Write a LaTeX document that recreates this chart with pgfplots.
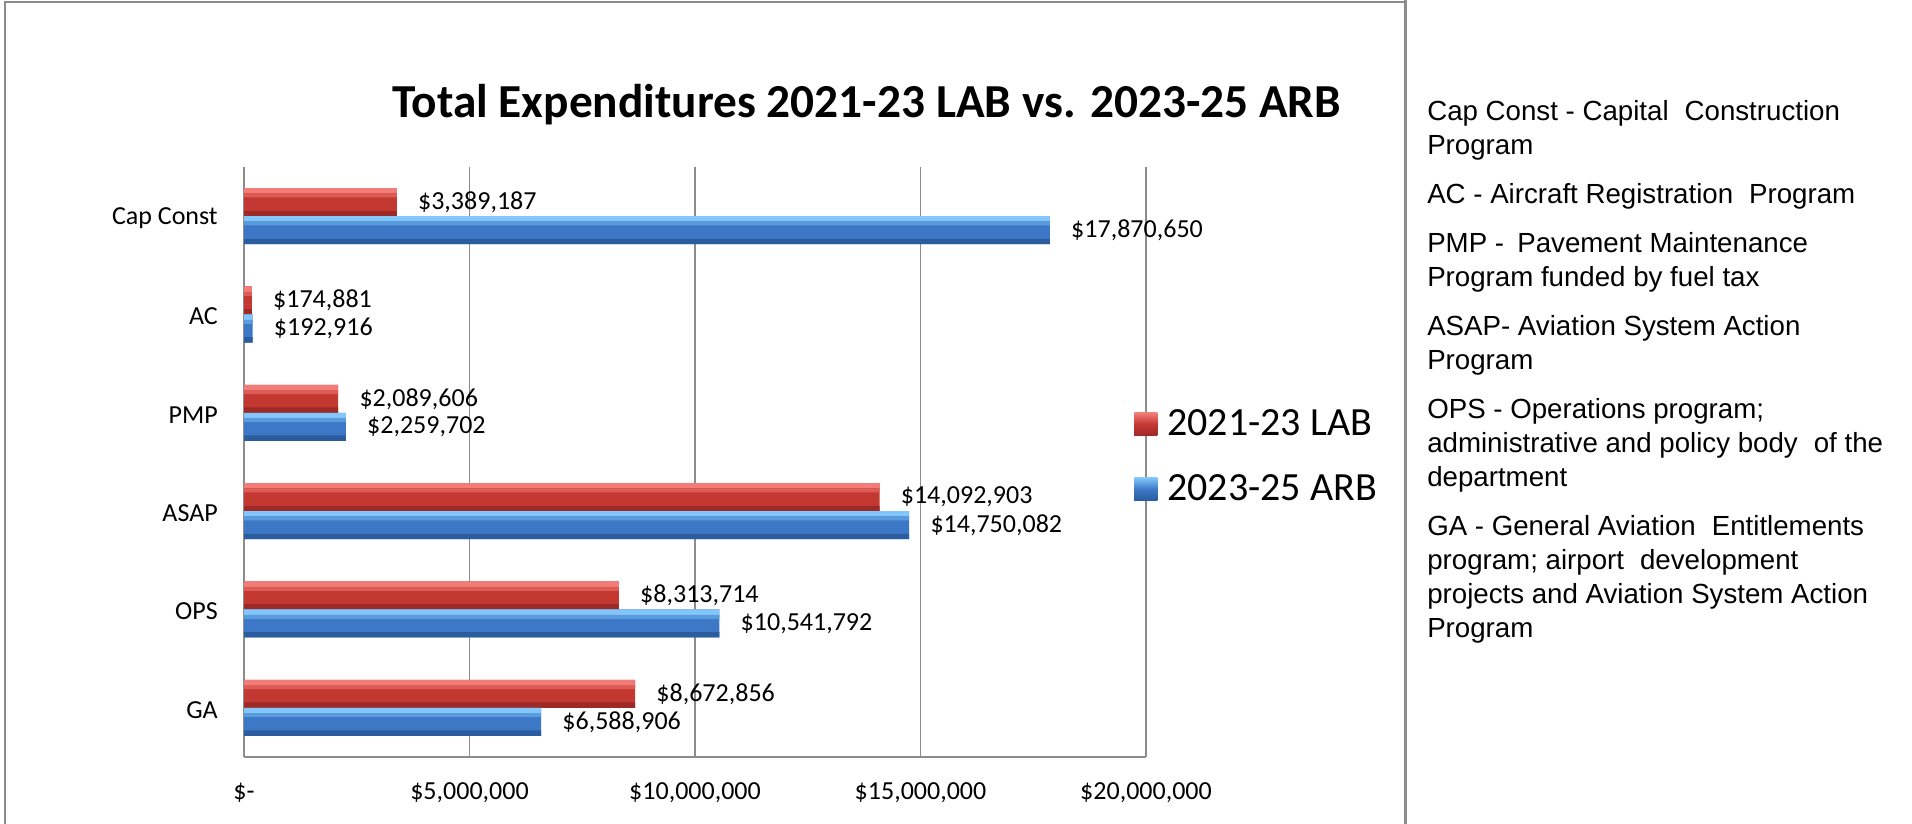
\documentclass[border=0pt]{standalone}
\usepackage{pgfplots}
\pgfplotsset{compat=1.18}
\usepackage{pgfplotstable}
\usepackage{fontspec}
\setmainfont{Carlito}
\newfontfamily\arial{Liberation Sans}
\definecolor{redTop}{RGB}{242,125,120}
\definecolor{redHi}{RGB}{222,92,86}
\definecolor{redMid}{RGB}{196,56,50}
\definecolor{redBot}{RGB}{158,42,40}
\definecolor{bluTop}{RGB}{130,198,250}
\definecolor{bluHi}{RGB}{90,155,222}
\definecolor{bluMid}{RGB}{60,120,198}
\definecolor{bluBot}{RGB}{42,92,158}
\definecolor{frame}{RGB}{140,140,140}

\pgfplotstableread{
x y lab
3389187 5 3,389,187
174881 4 174,881
2089606 3 2,089,606
14092903 2 14,092,903
8313714 1 8,313,714
8672856 0 8,672,856
}\labdata
\pgfplotstableread{
x y lab
17870650 5 17,870,650
192916 4 192,916
2259702 3 2,259,702
14750082 2 14,750,082
10541792 1 10,541,792
6588906 0 6,588,906
}\arbdata

\begin{document}
\begin{tikzpicture}
\path[use as bounding box] (0,0) rectangle (1434pt,618pt);
\draw[frame, line width=1.5pt] (3.75pt,0) -- (3.75pt,616.5pt) -- (1054pt,616.5pt);
\draw[frame, line width=2pt] (1054pt,0) -- (1054pt,618pt);
\node[font=\fontsize{35.5}{40}\selectfont\bfseries, anchor=base, inner sep=0pt] at (650pt,529.5pt) {Total Expenditures 2021-23 LAB vs. 2023-25 ARB};
\begin{axis}[
 at={(183pt,50.25pt)}, anchor=south west,
 scale only axis, width=676.5pt, height=442.5pt,
 xbar, bar width=21pt,
 xmin=0, xmax=20000000, ymin=-0.5, ymax=5.5,
 axis lines*=left,
 axis line style={frame, line width=1.5pt},
 xtick={0,5000000,10000000,15000000,20000000},
 xticklabels={{\$-\hspace{0.9em}},{\$5,000,000},{\$10,000,000},{\$15,000,000},{\$20,000,000}},
 scaled x ticks=false,
 ytick={0,1,2,3,4,5},
 yticklabels={GA,OPS,ASAP,PMP,AC,Cap Const},
 major tick length=0pt,
 xmajorgrids, major grid style={frame, line width=1.2pt},
 tick label style={font=\fontsize{19.5}{23}\selectfont},
 xticklabel style={anchor=base, inner sep=0pt, yshift=-32.25pt},
 yticklabel style={anchor=east, inner sep=0pt, xshift=-19.5pt, yshift=-1.5pt},
 every node near coord/.append style={font=\fontsize{19.5}{23}\selectfont, anchor=west, inner sep=0pt, xshift=15.75pt},
 legend style={at={(0.9867,0.5119)}, anchor=west, draw=none, fill=none, inner sep=0pt,
   font=\fontsize{30}{36}\selectfont,
   nodes={inner sep=0pt, text height=34pt, text depth=14.75pt},
   /tikz/every odd column/.append style={column sep=7.5pt}},
 legend cell align=left,
]
% 2021-23 LAB
\addplot[xbar, bar shift=10.5pt, fill=redMid, draw=none,
  point meta=explicit symbolic, nodes near coords={\$\pgfplotspointmeta},
  legend image code/.code={\path[draw=none, top color=redTop, bottom color=redBot, middle color=redMid] (0pt,-9.95pt) rectangle (17.25pt,7.3pt);}]
  table[x=x, y=y, meta=lab] {\labdata};
\addplot[forget plot, xbar, bar width=4pt, bar shift=19pt, fill=redTop, draw=none] table[x=x, y=y] {\labdata};
\addplot[forget plot, xbar, bar width=3pt, bar shift=15.5pt, fill=redHi, draw=none] table[x=x, y=y] {\labdata};
\addplot[forget plot, xbar, bar width=4pt, bar shift=2pt, fill=redBot, draw=none] table[x=x, y=y] {\labdata};
% 2023-25 ARB
\addplot[xbar, bar shift=-10.5pt, fill=bluMid, draw=none,
  point meta=explicit symbolic, nodes near coords={\$\pgfplotspointmeta},
  legend image code/.code={\path[draw=none, top color=bluTop, bottom color=bluBot, middle color=bluMid] (0pt,-9.95pt) rectangle (17.25pt,7.3pt);}]
  table[x=x, y=y, meta=lab] {\arbdata};
\addplot[forget plot, xbar, bar width=4pt, bar shift=-2pt, fill=bluTop, draw=none] table[x=x, y=y] {\arbdata};
\addplot[forget plot, xbar, bar width=3pt, bar shift=-5.5pt, fill=bluHi, draw=none] table[x=x, y=y] {\arbdata};
\addplot[forget plot, xbar, bar width=4pt, bar shift=-19pt, fill=bluBot, draw=none] table[x=x, y=y] {\arbdata};
\legend{2021-23 LAB, 2023-25 ARB}
\end{axis}
\begin{scope}[every node/.style={anchor=base west, inner sep=0pt, font=\arial\fontsize{20.75}{25}\selectfont}]
\node at (1070.25pt,527.5pt) {Cap Const - Capital\hspace{0.3em} Construction};
\node at (1070.25pt,501.8pt) {Program};
\node at (1070.25pt,465.3pt) {AC - Aircraft Registration\hspace{0.3em} Program};
\node at (1070.25pt,428.8pt) {PMP -\hspace{0.2em} Pavement Maintenance};
\node at (1070.25pt,403.1pt) {Program funded by fuel tax};
\node at (1070.25pt,366.6pt) {ASAP- Aviation System Action};
\node at (1070.25pt,341.0pt) {Program};
\node at (1070.25pt,304.4pt) {OPS - Operations program;};
\node at (1070.25pt,278.8pt) {administrative and policy body\hspace{0.3em} of the};
\node at (1070.25pt,253.1pt) {department};
\node at (1070.25pt,216.6pt) {GA - General Aviation\hspace{0.3em} Entitlements};
\node at (1070.25pt,191.0pt) {program; airport\hspace{0.3em} development};
\node at (1070.25pt,165.3pt) {projects and Aviation System Action};
\node at (1070.25pt,139.7pt) {Program};
\end{scope}
\end{tikzpicture}
\end{document}
